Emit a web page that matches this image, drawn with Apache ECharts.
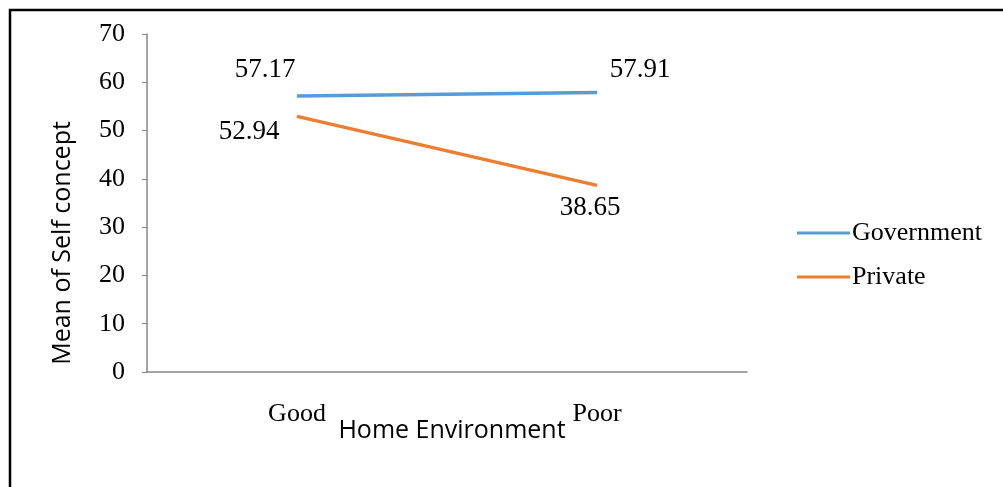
<!DOCTYPE html>
<html>
<head>
<meta charset="utf-8">
<script src="https://cdn.jsdelivr.net/npm/echarts@6/dist/echarts.min.js"></script>
<style>
  html, body { margin: 0; padding: 0; background: #fff; }
  #chart { width: 1003px; height: 487px; }
</style>
</head>
<body>
<div id="chart"></div>
<script>
const categories = ["Good", "Poor"];
const governmentValues = [57.17, 57.91];
const privateValues = [52.94, 38.65];
const yMin = 0;
const yMax = 70;
const yStep = 10;

// where each value label sits relative to its point
const govLabelOffsets = [[-32, -26], [43, -22]];
const privLabelOffsets = [[-48, 16], [-7, 23]];

const serif = "'Liberation Serif', 'Times New Roman', serif";
const sans = "'Open Sans', 'Noto Sans', sans-serif";
const axisGray = "#868686";

const withLabels = (values, offsets) =>
  values.map((v, i) => ({
    value: v,
    label: { offset: offsets[i] },
  }));

const chart = echarts.init(document.getElementById("chart"), null, { renderer: "canvas" });

chart.setOption({
  animation: false,
  backgroundColor: "#fff",
  grid: { left: 147, right: 256, top: 34, bottom: 115 },
  legend: {
    orient: "vertical",
    left: 792,
    top: 215,
    itemWidth: 53,
    itemHeight: 27,
    itemGap: 18,
    textStyle: { fontFamily: serif, fontSize: 26, color: "#000", padding: [0, 0, 0, -3] },
    data: [
      { name: "Government", icon: "path://M0,0H53V3H0Z" },
      { name: "Private", icon: "path://M0,0H53V3H0Z" },
    ],
  },
  xAxis: {
    type: "category",
    data: categories,
    boundaryGap: true,
    axisLine: { lineStyle: { color: axisGray, width: 1.5 } },
    axisTick: { length: 5, lineStyle: { color: axisGray } },
    axisLabel: { color: "#000", fontFamily: serif, fontSize: 26, margin: 29 },
  },
  yAxis: {
    type: "value",
    min: yMin,
    max: yMax,
    interval: yStep,
    splitLine: { show: false },
    axisLine: { show: true, lineStyle: { color: axisGray, width: 1.5 } },
    axisTick: { show: true, length: 5, lineStyle: { color: axisGray } },
    axisLabel: { color: "#000", fontFamily: serif, fontSize: 26, margin: 22 },
  },
  graphic: [
    {
      type: "rect",
      silent: true,
      shape: { x: 10, y: 10, width: 1100, height: 600 },
      style: { fill: "none", stroke: "#000", lineWidth: 2.5 },
    },
    {
      type: "text",
      x: 63,
      y: 243,
      rotation: Math.PI / 2,
      style: {
        text: "Mean of Self concept",
        font: "25px " + sans,
        fill: "#000",
        align: "center",
        verticalAlign: "middle",
      },
    },
    {
      type: "text",
      x: 452,
      y: 431,
      style: {
        text: "Home Environment",
        font: "25px " + sans,
        fill: "#000",
        align: "center",
        verticalAlign: "middle",
      },
    },
  ],
  series: [
    {
      name: "Government",
      type: "line",
      data: withLabels(governmentValues, govLabelOffsets),
      symbol: "circle",
      symbolSize: 1,
      lineStyle: { color: "#5B9BD5", width: 3.5 },
      itemStyle: { color: "#5B9BD5" },
      label: {
        show: true,
        position: "inside",
        color: "#000",
        fontFamily: serif,
        fontSize: 27,
      },
    },
    {
      name: "Private",
      type: "line",
      data: withLabels(privateValues, privLabelOffsets),
      symbol: "circle",
      symbolSize: 1,
      lineStyle: { color: "#ED7D31", width: 3.5 },
      itemStyle: { color: "#ED7D31" },
      label: {
        show: true,
        position: "inside",
        color: "#000",
        fontFamily: serif,
        fontSize: 27,
      },
    },
  ],
});
</script>
</body>
</html>
